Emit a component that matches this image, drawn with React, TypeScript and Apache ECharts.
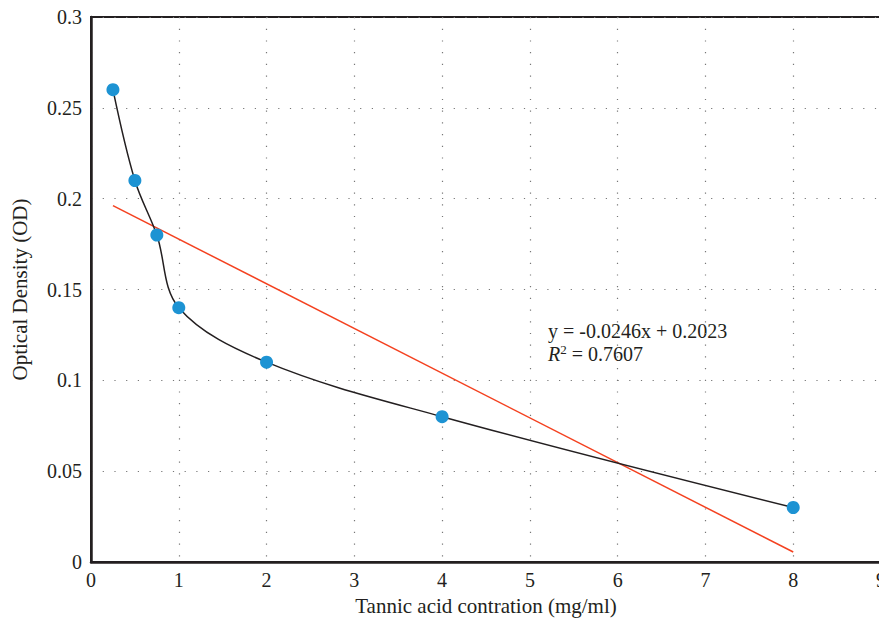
import React, { useEffect, useRef } from "react";
import * as echarts from "echarts";

const concentrations = [0.25, 0.5, 0.75, 1, 2, 4, 8];
const densities = [0.26, 0.21, 0.18, 0.14, 0.11, 0.08, 0.03];
const trendX = [0.25, 8];
const trendY = [0.1962, 0.0055];
const xTicks = [0, 1, 2, 3, 4, 5, 6, 7, 8, 9];
const yTicks = [0, 0.05, 0.1, 0.15, 0.2, 0.25, 0.3];
const equationText = "y = -0.0246x + 0.2023";
const r2Value = "0.7607";

const FONT = "'Liberation Serif', 'DejaVu Serif', serif";
const TXT = "#231f20";

export default function App() {
  const ref = useRef<HTMLDivElement>(null);
  useEffect(() => {
    document.body.style.margin = "0";
    if (!ref.current) return;
    const chart = echarts.init(ref.current, undefined, { renderer: "svg" });
    const pts = concentrations.map((x, i) => [x, densities[i]]);
    const trend = trendX.map((x, i) => [x, trendY[i]]);
    chart.setOption({
      animation: false,
      textStyle: { fontFamily: FONT },
      grid: {
        left: 91,
        right: -2,
        top: 17,
        bottom: 60,
        show: true,
        borderColor: "#231f20",
        borderWidth: 2,
        outerBoundsMode: "none",
        containLabel: false,
      },
      xAxis: {
        type: "value",
        min: xTicks[0],
        max: xTicks[xTicks.length - 1],
        interval: 1,
        name: "Tannic acid contration (mg/ml)",
        nameLocation: "middle",
        nameGap: 33,
        nameTextStyle: { fontFamily: FONT, fontSize: 21, color: TXT },
        axisLine: { show: true, onZero: false, lineStyle: { color: "#231f20", width: 2.5 } },
        axisTick: { show: false },
        axisLabel: { fontFamily: FONT, fontSize: 20, color: TXT, margin: 8 },
        splitLine: {
          show: true,
          lineStyle: { color: "#777", width: 1.2, type: [1.2, 10.5] },
        },
      },
      yAxis: {
        type: "value",
        min: yTicks[0],
        max: yTicks[yTicks.length - 1],
        interval: 0.05,
        name: "Optical Density (OD)",
        nameLocation: "middle",
        nameGap: 61,
        nameTextStyle: { fontFamily: FONT, fontSize: 21, color: TXT },
        axisLine: { show: true, onZero: false, lineStyle: { color: "#231f20", width: 2.5 } },
        axisTick: { show: false },
        axisLabel: { fontFamily: FONT, fontSize: 20, color: TXT, margin: 9 },
        splitLine: {
          show: true,
          lineStyle: { color: "#777", width: 1.2, type: [1.2, 10.5] },
        },
      },
      series: [
        {
          type: "line",
          data: trend,
          symbol: "none",
          lineStyle: { color: "#f4411f", width: 1.5 },
          z: 2,
        },
        {
          type: "line",
          data: pts,
          smooth: 0.35,
          symbol: "circle",
          symbolSize: 13,
          itemStyle: { color: "#1d93d3" },
          lineStyle: { color: "#231f20", width: 1.5 },
          z: 3,
        },
      ],
      graphic: [
        {
          type: "text",
          left: 548,
          top: 321,
          style: {
            text: equationText,
            font: `20px ${FONT}`,
            fill: TXT,
          },
        },
        {
          type: "text",
          left: 548,
          top: 343,
          style: {
            text: `{r|R}{s|2}{n| = ${r2Value}}`,
            fill: TXT,
            rich: {
              r: { font: `italic 20px ${FONT}`, fill: TXT },
              s: { font: `13px ${FONT}`, fill: TXT, verticalAlign: "top", padding: [0, 0, 8, 0] },
              n: { font: `20px ${FONT}`, fill: TXT },
            },
          },
        },
      ],
    });
    return () => chart.dispose();
  }, []);
  return <div ref={ref} style={{ width: 879, height: 622 }} />;
}
